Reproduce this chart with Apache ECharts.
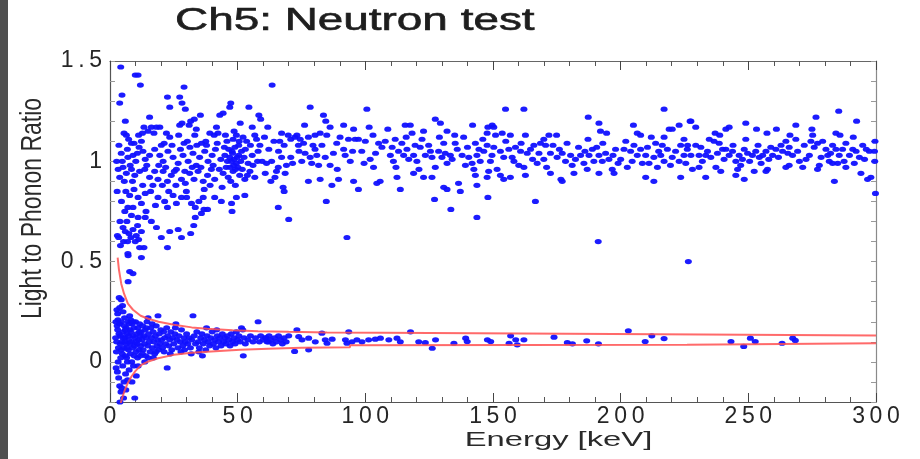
<!DOCTYPE html>
<html>
<head>
<meta charset="utf-8">
<script src="https://cdn.jsdelivr.net/npm/echarts@6/dist/echarts.min.js"></script>
<style>html,body{margin:0;padding:0;background:#fff}#c{width:920px;height:459px}</style>
</head>
<body>
<div id="c"></div>
<script>
// ---------- data ----------
const titleText = 'Ch5: Neutron test';
const xName = 'Energy [keV]';
const yName = 'Light to Phonon Ratio';
const xTicks = [0, 50, 100, 150, 200, 250, 300];
const yTickLabels = [0, 0.5, 1, 1.5];

// electron-recoil band (upper), 0-75 keV
const erLow = [
[4.2,1.47],[9.9,1.43],[11,1.43],[11.9,1.38],[29,1.37],[63.5,1.38],
[4.7,1.33],[3.8,1.29],[22.5,1.32],[27.3,1.32],[23.4,1.27],[28.2,1.29],[47.3,1.29],[46.9,1.27],[54.4,1.27],[29.5,1.26],
[15.5,1.22],[6,1.2],[44.3,1.24],[43,1.23],[58.3,1.23],[59,1.21],[35.4,1.23],[33,1.21],[31.6,1.2],[51,1.19],[55.7,1.17],[27.3,1.18],[28.2,1.19],[31,1.18],[16.2,1.17],[18.2,1.17],[19.5,1.17],[13.3,1.17],[14.9,1.15],
[5.5,1.14],[6.4,1.13],[7.3,1.11],[8.4,1.09],[9.4,1.09],[11.2,1.13],[12.7,1.14],[12.3,1.1],[17.2,1.14],[22.1,1.14],[21.2,1.09],[20.1,1.08],[23.4,1.12],[26.9,1.13],[29,1.09],[30.3,1.1],[33.2,1.13],[33.8,1.16],[35.8,1.09],[37.5,1.1],[39.1,1.14],[40.8,1.13],[41.7,1.17],[42.3,1.14],[45.2,1.13],[48.6,1.15],[49.5,1.13],[48.2,1.11],[50.4,1.08],[52.1,1.12],[53.5,1.1],[56.7,1.13],[57.4,1.11],[58.7,1.08],[67.2,1.14],[69.8,1.13],[70.8,1.11],[66.5,1.1],[68.2,1.08],[72.4,1.12],
[4.4,1.04],[7,1.02],[9,1.03],[10.7,1.04],[12.9,1.05],[13.8,1.01],[15.5,1.03],[17.5,1.06],[19.5,1.03],[20.8,1],[22.7,1.05],[24.7,1.02],[26.7,0.99],[28.6,1.03],[30.6,1],[32.5,1.04],[33.8,0.98],[35.1,1.02],[37.1,1.05],[38.4,1],[40,1.03],[41.3,1.06],[43.4,1.01],[45,1.03],[46,1],[46.9,1.02],[47.8,1.05],[48.6,1.01],[49.5,0.99],[50.4,1.03],[51.2,1],[52.5,1.02],[54.1,0.99],[55.7,1.03],[57.8,1],[59.6,1],[61.3,0.99],[63.3,1],[65.9,0.97],[69.1,0.98],[70.8,1.02],[67.2,1.02],
[3.8,0.92],[5.1,0.97],[6.4,0.94],[8.4,0.96],[9.7,0.93],[11.6,0.95],[13.6,0.96],[15.5,0.92],[17.5,0.95],[18.8,0.91],[20.8,0.95],[22.5,0.9],[24,0.93],[26,0.96],[28,0.91],[29.5,0.89],[31.2,0.94],[32.9,0.91],[34.5,0.95],[36.5,0.9],[38.2,0.93],[39.7,0.96],[41,0.91],[44.3,0.94],[46.3,0.92],[47.3,0.9],[48.2,0.95],[49.1,0.88],[50.8,0.93],[52.8,0.91],[54.8,0.95],[56.7,0.92],[64.6,0.92],[67.8,0.87],[65.2,0.95],
[7.7,0.83],[9.4,0.86],[11,0.82],[12.3,0.79],[9,0.77],[7,0.77],[13.8,0.84],[15.9,0.85],[18.8,0.82],[21.4,0.8],[22.5,0.77],[24.7,0.83],[26,0.79],[28,0.82],[29.9,0.85],[31.9,0.79],[33.4,0.77],[34.8,0.8],[36.5,0.82],[38.2,0.76],[41,0.82],[43.6,0.8],[47.6,0.79],[47.8,0.75],[49.5,0.82],[52.8,0.83],[65.9,0.77],[68.2,0.85],
[5.1,0.67],[6,0.65],[9,0.66],[10.3,0.63],[11.2,0.61],[12.3,0.65],[9.9,0.6],[13.3,0.57],[11.6,0.57],[16.2,0.7],[18.2,0.67],[20.1,0.62],[22.5,0.57],[23.4,0.65],[26.7,0.66],[28,0.62],[31.6,0.64],[33.4,0.72],[35.8,0.74],[7,0.54],[8.4,0.73],[11,0.72],[70,0.71],[13.8,0.72],
[3.5,1.08],[4.8,1.0],[5.6,0.9],[6.8,1.06],[7.9,0.98],[8.8,0.9],[10.1,1.0],[11.4,1.07],[3.2,0.96],[6.2,0.85],[4.5,0.8],[5.8,0.75],[3.9,0.7],[6.6,0.7],[8.2,0.62],[10.8,0.68],[12.8,0.88],[14.4,0.98],[14.1,0.75],[16.8,0.88],[17.8,0.78],[19.1,0.98],[20.5,0.88],[21.8,0.97],[23,0.85],[24.3,1.08],[25.2,0.95],[25.8,0.88],[27.6,1.06],[29.3,0.95],[30,0.82],[31.3,1.07],[32.2,0.97],[34,1.08],[35.6,0.97],[36.9,0.86],[37.8,1.08],[39.2,0.88],[40.4,0.98],[42,1.09],[42.8,0.96],[43.9,0.87],[44.8,1.07],[45.5,0.97],[45.8,1.1],[46.5,1.06],[47,0.97],[47.5,1.0],[48,1.04],[48.4,0.98],[48.9,1.07],[49.2,0.96],[49.8,1.02],[50.1,0.97],[50.6,1.1],[51.5,1.05],[51.8,0.96],[53,1.06],[53.8,0.93],[55,1.08],[56,0.98],[58,1.05],[60.5,1.12],[60.8,0.94],[62.2,1.06],[63,0.9],[64.2,1.1],[66,1.05],[68.6,0.94],[71.5,0.99],[61.8,1.17],[3.4,0.62],[4.1,0.58],[2.9,0.63],[5.3,0.6],[7.4,0.64],[6.9,0.6],[36.8,0.76],[32.8,0.68],[2.8,0.85],[2.6,1.0]
];

// electron-recoil band, 72-150 keV
const erMid = [
[78.4,1.27],[83.6,1.23],[84.5,1.2],[76.2,1.18],[86.2,1.17],[91.5,1.18],[95.4,1.16],[100.6,1.26],[101.5,1.17],[100,1.1],[108.8,1.16],[115.6,1.18],[117.6,1.18],[118.3,1.14],[122.8,1.15],[127.4,1.21],[129.4,1.19],[132,1.15],[135,1.13],[142,1.18],[148,1.17],[150.3,1.17],[147.7,1.14],
[73.2,1.13],[74.5,1.11],[75.8,1.09],[73.8,1.08],[77.7,1.12],[80.3,1.13],[82.3,1.14],[84.9,1.13],[83,1.08],[80.3,1.06],[76.4,1.04],[78.4,1.02],[75.1,1],[79,0.99],[81.7,0.98],[84.3,1.02],[86.2,0.98],[88.8,1.09],[90.1,1.12],[91.5,1.06],[92.1,1.03],[93.4,1.11],[94.1,1],[96,1.11],[97.3,1.11],[98.6,1.05],[101.9,1.01],[103.2,0.97],[105.2,1.09],[106.5,1.07],[107.8,1.1],[109.8,1.03],[111,1],[111.7,1.11],[113,1.05],[114.3,1.09],[115,1.03],[116.3,1.06],[117,1.01],[118.9,1.03],[120.2,1],[121.5,1.07],[122.2,1.11],[123.5,1.03],[124.8,1.08],[126.1,1.02],[127.4,0.97],[128.7,1.05],[130,1.02],[130.7,1.09],[132,0.99],[133.3,1.03],[135.2,1.09],[137.9,1.03],[139.2,0.98],[140.5,1.02],[141.8,0.99],[143.1,1.09],[143.7,1.03],[145,1],[146.4,1.05],[147.7,1.08],[148.3,0.95],[149.6,1.03],
[77.7,0.9],[82.3,0.91],[86.9,0.88],[89.5,0.91],[95.4,0.9],[97.3,0.86],[104.5,0.89],[105.8,0.9],[112.4,0.92],[113.7,0.86],[118.9,0.94],[122.8,0.92],[126.1,0.92],[130.7,0.87],[132,0.86],[136.5,0.89],[137.2,0.85],[143.1,0.93],[147.7,0.92],[143.7,0.88],
[84.7,0.8],[127.1,0.81],[133.5,0.76],[143.7,0.72],[148,0.82],[92.8,0.62],
[74,1.05],[79.5,1.08],[81,1.03],[87.5,1.04],[89,0.96],[95,1.05],[99.5,0.99],[103,1.13],[104,1.04],[110.5,1.07],[112,0.97],[116,1.12],[119.5,1.08],[121,0.96],[125.5,1.05],[129,1.12],[131.3,1.04],[134,1.01],[136,1.06],[138.5,1.12],[140,1.07],[142.5,0.96],[144.5,1.06],[146,1.11],[149,1.0]
];

// electron-recoil band, 150-227 keV
const erHigh = [
[154.9,1.26],[162.1,1.26],[217,1.26],[187.3,1.22],[191.5,1.19],[205,1.18],[227.2,1.2],[222.9,1.18],[149.7,1.18],[151,1.13],[153.6,1.14],[156.8,1.13],[162.7,1.13],[166,1.08],[168.6,1.09],[171.9,1.13],[174.9,1.13],[169.9,1.11],[170.6,1.08],[192.1,1.15],[194.5,1.14],[187.2,1.11],[206.5,1.14],[207.8,1.13],[217,1.12],[219,1.16],[220.2,1.16],[224.8,1.11],[213.7,1.09],
[150.3,1.07],[152.9,1.05],[156.2,1.06],[158.8,1.07],[160.8,1.05],[163.4,1.04],[164.7,1.06],[154.2,1.02],[158.2,1],[160.1,0.98],[162.1,0.97],[151.6,0.96],[167.3,0.99],[169.9,1.01],[172.5,1.04],[175.1,1.02],[177.1,1.04],[178.4,1],[180.4,1.03],[182.3,1.01],[184.3,1.03],[185.6,0.99],[187.6,1.03],[188.9,1.06],[190.6,1.07],[191.5,1.03],[192.8,1],[194.1,1.04],[195.4,1.01],[196.7,0.96],[198,1.06],[200,1.01],[201.3,1.06],[202.6,0.97],[203.9,1.05],[205.2,1.08],[206.5,1.03],[207.8,1.06],[209.8,1.03],[211.1,0.99],[213,1.02],[214.4,0.97],[215.7,1.03],[217,1],[218.3,1.06],[220.2,1.02],[221.5,1.05],[222.9,1],[224.8,1.03],[226.1,1.06],
[154.2,0.91],[152.9,0.93],[156.8,0.92],[162.7,0.93],[172.5,0.94],[176.6,0.91],[177.1,0.9],[181.7,0.94],[186.9,0.96],[191.5,0.94],[197.4,0.94],[209.8,0.92],[213,0.9],[223.5,0.92],
[166.6,0.8],[191.2,0.6],[226.5,0.5],
[155,1.1],[157.5,1.02],[161,1.09],[165.5,1.01],[168,1.04],[171,0.97],[173.5,1.08],[176,1.06],[179,1.09],[181,0.98],[183.5,1.07],[186,1.05],[189.5,1.0],[193,1.09],[197,1.03],[199,0.99],[202,1.1],[204.5,1.0],[208.5,0.99],[210.5,1.07],[212,1.12],[214.9,1.05],[216.3,1.08],[219.5,0.98],[223.5,1.08],[225.5,0.99]
];

// electron-recoil band, 225-300 keV
const erTop = [
[227.5,1.2],[229.4,1.17],[249,1.19],[242.5,1.17],[241.2,1.16],[253.2,1.16],[261,1.16],[268.6,1.18],[276.5,1.22],[285.4,1.25],[292.4,1.2],[274.9,1.16],[275.2,1.13],[284.3,1.14],[285.9,1.13],[291.1,1.12],[299.6,1.1],[257.3,1.14],[266.3,1.13],[237,1.14],[238.8,1.13],
[226.2,1.08],[229.4,1.08],[231.4,1.07],[227.5,1.03],[230.7,1.03],[233.3,1.03],[234,1.05],[235.3,1.02],[234.7,1.11],[236.6,1.1],[238.6,1.09],[239.9,1.06],[237.9,1.04],[241.2,1.06],[242.5,1.03],[243.8,1.05],[245.1,1],[246.4,1.03],[247.7,1.01],[248.4,1.06],[249.7,1.04],[249,1.11],[251.6,1.03],[252.9,1.05],[254.3,1.02],[255.6,1.03],[256.9,1.05],[258.8,1.07],[259.5,1.03],[260.8,1.06],[262.8,1.08],[263.4,1.05],[264.7,1.1],[266,1.07],[267.3,1.03],[268.6,1.11],[270,1],[271.9,1.08],[273.9,1.03],[275.8,1.07],[277.1,1.09],[279.1,1.1],[280.4,1.06],[281.1,1.03],[281.7,1],[283,1.08],[284.3,1.06],[285.6,1.03],[286.9,1.06],[288.2,1.09],[289.6,1.03],[290.9,1.06],[292.2,1.05],[293.5,1.02],[294.8,1.08],[297.4,1.05],[299.4,1.05],[299.5,1],
[228.1,0.96],[230.7,0.97],[233.3,0.92],[237.3,0.97],[239.2,0.95],[245.1,0.93],[248.4,0.91],[245.8,0.96],[252.3,0.95],[256.9,0.95],[257.5,0.96],[264.7,0.97],[266,0.98],[271.3,0.97],[277.1,0.96],[277.8,0.98],[283,0.99],[285,0.99],[288.2,0.97],[294.1,0.94],[296.7,0.91],[298,0.92],
[283.7,0.9],[299.8,0.84],
[232,1.0],[240.5,1.01],[244,1.08],[247,0.98],[250.5,1.0],[253.8,1.08],[255,0.99],[258,1.01],[261.8,1.02],[265.5,1.04],[269.3,1.05],[272.6,1.01],[274.5,1.1],[278.5,1.02],[282.2,1.04],[287.5,1.0],[291.5,0.99],[295.5,1.01],[296.2,1.06]
];

// nuclear-recoil band (lower), below 15 keV
const nrNear = [
[2.2,0.12],[2.5,0.05],[2.8,0.18],[3,0.24],[3.1,0.21],[3.2,0.0],[3.4,-0.08],[3.5,0.14],[3.6,0.32],[3.8,0.27],[3.8,-0.12],[4,0.09],[4.2,0.02],[4.3,-0.15],[2.6,0.1],[2.4,-0.03],[3.0,0.16],[3.3,0.07],[2.9,-0.05],[3.7,0.19],[4.1,0.13],[2.3,0.2],[3.9,-0.2],[2.7,0.26],
[4.4,0.31],[4.5,0.2],[4.7,0.1],[4.8,0.04],[5,-0.02],[5.1,0.25],[5.2,0.15],[5.4,0.07],[5.5,-0.1],[5.7,0.22],[5.8,0.12],[6,0.03],[6.1,-0.06],[6.3,0.17],[6.4,0.09],[6.6,0.14],[6.8,0.0],[7,0.2],[7.1,0.4],[7.1,0.53],[7.2,0.06],[7.4,0.11],[7.5,-0.04],[7.7,0.23],[7.7,0.45],[7.8,0.16],[4.6,-0.13],[5.3,-0.18],[6.2,-0.14],[6.9,-0.09],[5.6,0.18],[4.9,0.28],[6.7,0.07],[7.3,0.13],[5.9,0.1],[6.5,0.02],[4.5,0.06],[7.9,0.09],[8,0.04],[6,0.16],[5,0.12],[7.6,0.19],
[8.2,0.15],[8.4,0.1],[8.5,0.0],[8.7,0.19],[8.9,0.07],[9,0.44],[9,0.13],[9.2,-0.02],[9.4,0.17],[9.6,0.08],[9.7,-0.18],[9.8,0.12],[10,0.2],[10.2,0.05],[10.3,-0.07],[10.5,0.14],[10.7,0.09],[10.9,0.17],[11,-0.02],[11.2,0.11],[11.4,0.06],[11.6,0.19],[11.8,0.13],[12,0.08],[12.3,0.52],[12.2,0.15],[8.6,-0.1],[9.5,0.03],[10.8,0.02],[11.5,0.15],[8.1,0.21],[10.1,0.1],[9.1,0.2],[11.9,0.03],
[12.5,0.11],[12.8,0.18],[13,0.06],[13.2,0.13],[13.5,0.09],[13.8,0.16],[14,0.03],[14.2,0.12],[14.5,0.2],[14.9,0.22],[14.8,0.08],[13.6,0.0],[12.7,0.04],[14.3,0.17]
];

// nuclear-recoil band, 15-62 keV
const nrMid = [
[15.1,0.14],[15.4,0.1],[15.7,0.05],[16,0.17],[16.3,0.12],[16.6,0.07],[16.9,0.15],[17.2,0.1],[17.5,0.04],[17.8,0.13],[18.1,0.18],[18.4,0.08],[18.8,0.23],[18.7,0.11],[19,0.06],[19.3,0.14],[19.6,0.09],[19.9,0.16],[15,0.02],[16.5,0.19],[18,0.05],[17,0.02],
[20.2,0.11],[20.6,0.07],[21,0.15],[21.4,0.12],[21.8,0.09],[22.2,0.17],[22.4,-0.03],[22.6,0.13],[23,0.08],[23.4,0.11],[23.8,0.15],[24.2,0.06],[24.6,0.12],[25,0.09],[25.4,0.14],[25.8,0.19],[26.2,0.11],[26.6,0.07],[27,0.13],[27.5,0.1],[28,0.16],[28.5,0.08],[29,0.12],[29.5,0.1],[30,0.14],[21.2,0.05],[23.6,0.04],[27.8,0.05],[25.6,0.17],[29.2,0.06],
[30.5,0.09],[31,0.12],[31.5,0.07],[32,0.11],[32.5,0.23],[33,0.13],[33.5,0.09],[34,0.15],[34.5,0.1],[35,0.07],[35.5,0.12],[36,0.14],[36.5,0.09],[37,0.11],[37.5,0.06],[38,0.13],[38.5,0.1],[39,0.08],[39.5,0.12],[40,0.15],[40.5,0.09],[41,0.11],[41.5,0.07],[42,0.13],[42.5,0.1],[43,0.12],[43.5,0.08],[44,0.14],[44.5,0.1],[45,0.12],[31.8,0.04],[34.8,0.05],[37.8,0.17],[41.8,0.16],[36.2,0.03],
[45.5,0.09],[46,0.13],[46.5,0.11],[47,0.08],[47.5,0.14],[48,0.1],[48.5,0.12],[49,0.09],[49.5,0.15],[50,0.11],[50.5,0.13],[51,0.1],[51.5,0.17],[52,0.16],[52.2,0.03],[52.5,0.12],[53,0.09],[54,0.11],[55,0.13],[56,0.1],[57,0.12],[58,0.2],[58.5,0.1],[59,0.13],[60,0.11],[61,0.12],[62,0.1]
];

// nuclear-recoil band, above 60 keV
const nrFar = [
[61,0.12],[61.5,0.1],[62.3,0.13],[63,0.11],[63.8,0.09],[64.5,0.12],[65.2,0.1],[66,0.13],[66.8,0.11],[67.5,0.09],[68.2,0.12],[69,0.1],[70,0.13],
[73.2,0.16],[73.9,0.126],[72.3,0.052],[77.8,0.06],[75.2,0.11],[77.8,0.118],[80.4,0.1],[83,0.143],[84.3,0.11],[85,0.093],[87,0.113],[93.5,0.15],[92.2,0.11],[94.8,0.1],[92.8,0.093],[96.7,0.11],[98.7,0.1],[101.3,0.11],[103.9,0.113],[105.9,0.118],[109.2,0.11],[112.4,0.118],[113.7,0.1],[117.7,0.15],[120.9,0.1],[123.5,0.096],[126.2,0.068],[127.5,0.11],[134.7,0.093],
[139.3,0.118],[139.9,0.101],[147.8,0.11],[149.1,0.101],[156.3,0.093],[156.9,0.13],[158.9,0.11],[159.5,0.085],[162.1,0.11],[173.9,0.123],[179.1,0.096],[181.1,0.09],[186.7,0.105],[191.3,0.09],[203,0.155],[209.6,0.101],[212.2,0.13],[217,0.116],[243.2,0.101],[248.2,0.077],[250.8,0.118],[252.7,0.101],[263.2,0.093],[267.4,0.118],[268.4,0.107]
];

// red acceptance curves
const upperCurve = [[3,0.52],[3.5,0.46],[4.4,0.39],[5.5,0.34],[7,0.29],[9,0.26],[12,0.23],[15,0.215],[19,0.2],[25,0.185],[32,0.172],[38,0.165],[48,0.158],[58,0.153],[70,0.15],[85,0.147],[107,0.145],[107,0.141],[197,0.139],[197,0.131],[300,0.131]];
const lowerCurve = [[4.2,-0.205],[5,-0.17],[5.8,-0.14],[7,-0.105],[8.4,-0.073],[10,-0.045],[12.3,-0.015],[15,0.002],[18.8,0.018],[25,0.035],[32,0.045],[38,0.051],[51,0.06],[62,0.066],[75,0.07],[94,0.073],[94,0.083],[226,0.086],[226,0.093],[300,0.093]];

// ---------- chart ----------
const FONT = '"Liberation Sans", Arial, Helvetica, sans-serif';
const spaced = s => String(s).split('').join('\u2009');
const allPoints = [].concat(erLow, erMid, erHigh, erTop, nrNear, nrMid, nrFar);

const chart = echarts.init(document.getElementById('c'), null, {renderer: 'canvas'});
const isYLabel = v => yTickLabels.some(t => Math.abs(t - v) < 1e-6);

const tickX = {show: true, inside: true, length: 9, lineStyle: {color: '#444', width: 1}};
const minorX = {show: true, splitNumber: 5, length: 5, lineStyle: {color: '#555', width: 1}};
const tickY = {show: true, inside: true, length: 5, lineStyle: {color: '#999', width: 1}};

chart.setOption({
  backgroundColor: '#ffffff',
  animation: false,
  grid: {left: 110, right: 44, top: 61, bottom: 57, containLabel: false},
  xAxis: [
    {type: 'value', position: 'bottom', min: xTicks[0], max: xTicks[xTicks.length - 1], interval: 50,
     axisLine: {show: true, onZero: false, lineStyle: {color: '#555', width: 1.2}},
     axisTick: tickX, minorTick: minorX, splitLine: {show: false}, minorSplitLine: {show: false},
     axisLabel: {show: true, margin: 3, fontSize: 23, fontFamily: FONT, color: '#262626', formatter: v => spaced(v)}},
    {type: 'value', position: 'top', min: xTicks[0], max: xTicks[xTicks.length - 1], interval: 50,
     axisLine: {show: true, onZero: false, lineStyle: {color: '#666', width: 1.2}},
     axisTick: tickX, minorTick: minorX, splitLine: {show: false}, axisLabel: {show: false}}
  ],
  yAxis: [
    {type: 'value', position: 'left', min: -0.2, max: 1.5, interval: 0.1,
     axisLine: {show: true, onZero: false, lineStyle: {color: '#555', width: 1.2}},
     axisTick: tickY, splitLine: {show: false},
     axisLabel: {show: true, margin: 8, fontSize: 23, fontFamily: FONT, color: '#262626', showMinLabel: true, showMaxLabel: true,
       formatter: v => isYLabel(v) ? spaced(String(Math.round(v * 10) / 10)) : ''}},
    {type: 'value', position: 'right', min: -0.2, max: 1.5, interval: 0.1,
     axisLine: {show: true, onZero: false, lineStyle: {color: '#8a8a8a', width: 1.2}},
     axisTick: tickY, splitLine: {show: false}, axisLabel: {show: false}}
  ],
  series: [
    {type: 'scatter', name: 'events', xAxisIndex: 0, yAxisIndex: 0, data: allPoints,
     symbol: 'circle', symbolSize: [7, 5.2], itemStyle: {color: '#1010ff', opacity: 0.95}, z: 2},
    {type: 'line', name: 'upper', xAxisIndex: 0, yAxisIndex: 0, data: upperCurve, showSymbol: false, smooth: false,
     lineStyle: {color: '#ff5050', width: 2, opacity: 0.85}, z: 3},
    {type: 'line', name: 'lower', xAxisIndex: 0, yAxisIndex: 0, data: lowerCurve, showSymbol: false, smooth: false,
     lineStyle: {color: '#ff5050', width: 2, opacity: 0.85}, z: 3}
  ],
  graphic: [
    {type: 'rect', x: 0, y: 0, shape: {x: 0, y: 0, width: 8, height: 459}, style: {fill: '#4f4f4f'}},
    {type: 'text', x: 175, y: 21, scaleX: 1.48,
     style: {text: titleText, font: '31px ' + FONT, fill: '#1e1e1e', stroke: '#1e1e1e', lineWidth: 0.6, align: 'left', textAlign: 'left', verticalAlign: 'middle', textVerticalAlign: 'middle'}},
    {type: 'text', x: 558.5, y: 440.5, scaleX: 1.56,
     style: {text: xName, font: '21px ' + FONT, fill: '#2a2a2a', align: 'center', textAlign: 'center', verticalAlign: 'middle', textVerticalAlign: 'middle'}},
    {type: 'text', x: 33, y: 208.5, rotation: Math.PI / 2, scaleY: 1.3,
     style: {text: yName, font: '23px ' + FONT, fill: '#2a2a2a', align: 'center', textAlign: 'center', verticalAlign: 'middle', textVerticalAlign: 'middle'}}
  ]
});
</script>
</body>
</html>
